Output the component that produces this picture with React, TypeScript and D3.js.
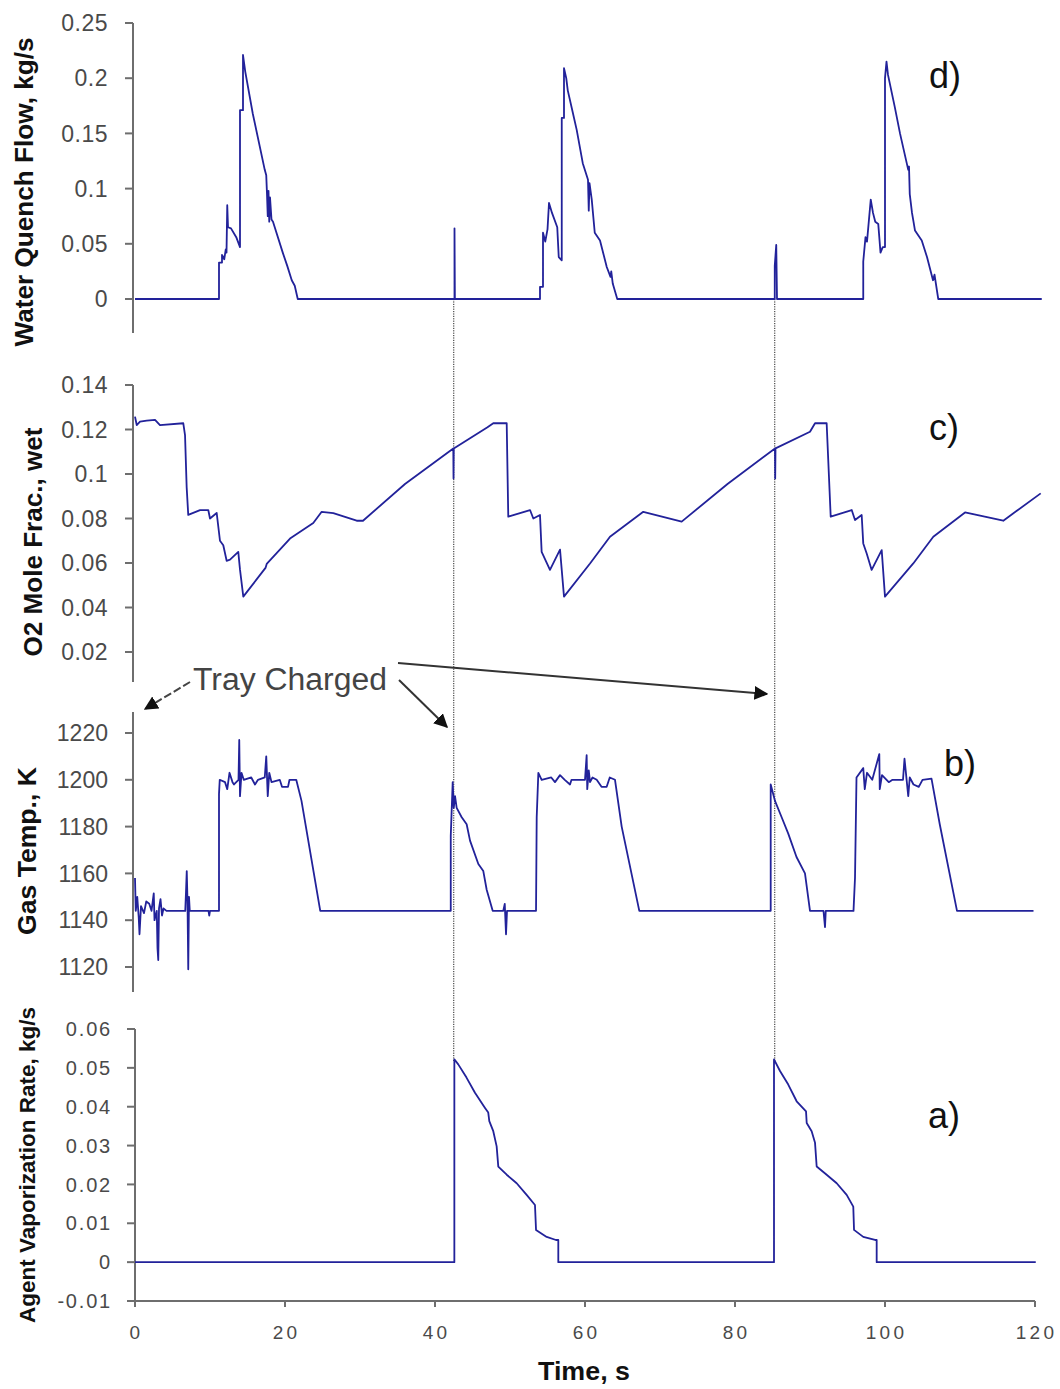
import React from "react";
import * as d3 from "d3";

// ---------- DATA ----------
const timeTicks = [0, 20, 40, 60, 80, 100, 120];
const quenchTicks = [0, 0.05, 0.1, 0.15, 0.2, 0.25];
const quenchTickLabels = ["0", "0.05", "0.1", "0.15", "0.2", "0.25"];
const o2Ticks = [0.02, 0.04, 0.06, 0.08, 0.1, 0.12, 0.14];
const o2TickLabels = ["0.02", "0.04", "0.06", "0.08", "0.1", "0.12", "0.14"];
const tempTicks = [1120, 1140, 1160, 1180, 1200, 1220];
const tempTickLabels = ["1120", "1140", "1160", "1180", "1200", "1220"];
const agentTicks = [-0.01, 0, 0.01, 0.02, 0.03, 0.04, 0.05, 0.06];
const agentTickLabels = ["-0.01", "0", "0.01", "0.02", "0.03", "0.04", "0.05", "0.06"];
const chargeTimes = [42.5, 85.3];

// [time s, water quench flow kg/s]
const quenchFlow: [number, number][] = [
  [0, 0], [11.2, 0], [11.2, 0.033], [11.6, 0.033], [11.6, 0.04], [11.9, 0.036], [12.1, 0.045], [12.2, 0.042],
  [12.3, 0.085], [12.4, 0.065], [12.8, 0.064], [13.5, 0.056], [14.0, 0.047], [14.0, 0.171], [14.4, 0.171],
  [14.4, 0.221], [14.7, 0.206], [15.7, 0.168], [17.3, 0.117], [17.5, 0.112], [17.6, 0.095], [17.7, 0.075],
  [17.8, 0.098], [17.9, 0.07], [18.0, 0.092], [18.2, 0.072], [18.4, 0.07], [19.7, 0.042], [20.3, 0.03],
  [20.9, 0.017], [21.3, 0.012], [21.7, 0],
  [42.6, 0], [42.6, 0.064], [42.65, 0],
  [54.0, 0], [54.0, 0.011], [54.4, 0.011], [54.4, 0.06], [54.7, 0.052], [55.0, 0.063], [55.2, 0.087],
  [55.6, 0.078], [56.3, 0.065], [56.5, 0.038], [56.9, 0.035], [56.9, 0.164], [57.2, 0.164], [57.2, 0.209],
  [57.5, 0.2], [57.7, 0.189], [58.4, 0.168], [58.9, 0.153], [59.7, 0.123], [60.4, 0.108], [60.5, 0.08],
  [60.6, 0.105], [60.9, 0.09], [61.3, 0.06], [62.0, 0.053], [62.9, 0.029], [63.4, 0.02], [63.5, 0.025],
  [63.7, 0.014], [64.3, 0],
  [85.3, 0], [85.3, 0.03], [85.5, 0.049], [85.6, 0],
  [97.1, 0], [97.1, 0.034], [97.4, 0.056], [97.6, 0.052], [98.1, 0.09], [98.4, 0.078], [98.7, 0.07],
  [99.1, 0.068], [99.4, 0.042], [99.7, 0.047], [100.0, 0.047], [100.0, 0.2], [100.2, 0.215], [100.4, 0.203],
  [101.3, 0.174], [102.0, 0.15], [103.1, 0.117], [103.2, 0.12], [103.3, 0.095], [103.6, 0.078], [103.8, 0.07],
  [104.0, 0.062], [104.2, 0.06], [104.9, 0.053], [105.6, 0.038], [106.4, 0.017], [106.6, 0.022], [107.1, 0],
  [120.9, 0],
];

// [time s, O2 mole fraction wet]
const o2Frac: [number, number][] = [
  [0, 0.1258], [0.23, 0.122], [0.67, 0.1235], [1.56, 0.124], [2.67, 0.1243], [3.33, 0.122], [6.44, 0.1228],
  [6.67, 0.1175], [6.89, 0.094], [7.1, 0.0816], [8.67, 0.0838], [9.77, 0.0838], [10.0, 0.08], [10.89, 0.0825],
  [11.33, 0.07], [11.77, 0.068], [12.22, 0.061], [12.67, 0.0615], [13.77, 0.065], [14.0, 0.057], [14.44, 0.0449],
  [17.4, 0.0578], [17.56, 0.0596], [20.67, 0.071], [23.77, 0.078], [24.89, 0.083], [26.44, 0.0824], [29.56, 0.079],
  [30.4, 0.079], [36.0, 0.0955], [42.44, 0.1115], [42.47, 0.098], [42.5, 0.1115], [47.0, 0.121],
  [47.77, 0.1228], [49.56, 0.1228], [49.77, 0.0808], [52.67, 0.0838], [53.11, 0.08], [54.0, 0.0816],
  [54.22, 0.065], [55.33, 0.0569], [56.67, 0.066], [57.2, 0.0449], [60.67, 0.0598], [63.33, 0.0718],
  [67.77, 0.083], [72.89, 0.0786], [79.0, 0.0955], [85.33, 0.1115], [85.36, 0.098], [85.4, 0.1115],
  [90.0, 0.119], [90.67, 0.1228], [92.22, 0.1228], [92.76, 0.0808], [95.56, 0.0838], [96.0, 0.0793],
  [96.89, 0.0816], [97.1, 0.0688], [97.56, 0.0643], [98.22, 0.0569], [99.56, 0.0658], [100.0, 0.0449],
  [103.77, 0.0598], [106.44, 0.0718], [110.67, 0.0827], [115.77, 0.079], [120.76, 0.0913],
];

// [time s, gas temperature K]
const gasTemp: [number, number][] = [
  [0, 1158], [0.1, 1144], [0.3, 1150], [0.5, 1141], [0.6, 1134], [0.8, 1146], [1.2, 1143], [1.5, 1148],
  [1.9, 1147], [2.2, 1144], [2.5, 1151.5], [2.6, 1140], [2.9, 1144], [3.0, 1128], [3.1, 1123], [3.2, 1145],
  [3.4, 1149], [3.6, 1142], [3.8, 1145], [4.2, 1144], [6.7, 1144], [6.8, 1152], [6.9, 1161], [7.0, 1148],
  [7.1, 1119], [7.2, 1150], [7.3, 1144], [9.8, 1144], [9.9, 1142], [10.0, 1144], [11.2, 1144], [11.2, 1194],
  [11.3, 1200], [12.0, 1199], [12.3, 1196], [12.6, 1203], [13.0, 1199], [13.2, 1198], [13.8, 1200],
  [13.9, 1217], [14.0, 1193], [14.2, 1203], [14.5, 1200], [15.5, 1201], [16.0, 1198], [16.4, 1200],
  [17.3, 1201], [17.5, 1210], [17.7, 1193], [17.9, 1203], [18.2, 1199], [19.3, 1200], [19.6, 1197],
  [20.4, 1197], [20.6, 1200], [21.5, 1200], [22.2, 1191], [24.7, 1144],
  [42.1, 1144], [42.1, 1176], [42.36, 1199], [42.5, 1188], [42.67, 1193], [42.89, 1188], [43.56, 1184],
  [44.22, 1181], [44.67, 1174], [45.78, 1164], [46.44, 1161], [46.89, 1153], [47.69, 1144], [49.1, 1144],
  [49.3, 1147], [49.47, 1134], [49.6, 1144], [53.47, 1144], [53.56, 1184], [53.78, 1203], [54.22, 1200],
  [55.5, 1201], [56.0, 1199], [56.67, 1202], [57.3, 1200], [58.0, 1198], [58.2, 1200], [60.0, 1200],
  [60.22, 1210.5], [60.3, 1196], [60.5, 1204], [60.67, 1199], [61.0, 1201], [61.56, 1200], [62.2, 1197],
  [62.89, 1197], [63.3, 1201], [64.0, 1200], [64.89, 1180], [67.24, 1144],
  [84.76, 1144], [84.76, 1198], [85.33, 1191], [86.22, 1184], [87.1, 1177], [88.2, 1167], [89.33, 1160],
  [90.0, 1144], [91.8, 1144], [92.0, 1137], [92.1, 1144], [95.8, 1144], [96.0, 1158], [96.2, 1201],
  [97.1, 1205], [97.3, 1196], [97.6, 1203], [98.3, 1200], [99.24, 1211], [99.3, 1196], [99.6, 1202],
  [100.5, 1199], [101.0, 1200], [102.4, 1200], [102.6, 1209], [103.1, 1193], [103.3, 1201], [103.8, 1198],
  [104.5, 1197], [105.0, 1200], [106.2, 1200.5], [107.3, 1181], [109.6, 1144], [119.8, 1144],
];

// [time s, agent vaporization rate kg/s]
const agentRate: [number, number][] = [
  [0, 0], [42.58, 0], [42.58, 0.0522], [43.1, 0.0509], [44.2, 0.0475], [45.33, 0.0436], [46.67, 0.0397],
  [47.1, 0.0385], [47.24, 0.0363], [47.77, 0.0337], [48.22, 0.0298], [48.44, 0.0246], [49.56, 0.0225],
  [50.89, 0.0203], [52.22, 0.0173], [53.33, 0.0147], [53.47, 0.0083], [54.89, 0.0065], [56.13, 0.0057],
  [56.44, 0.0057], [56.44, 0], [85.2, 0], [85.2, 0.0522], [86.0, 0.0492], [87.1, 0.0457], [88.22, 0.0414],
  [89.47, 0.0388], [89.56, 0.0358], [90.22, 0.0337], [90.67, 0.0307], [90.89, 0.0246], [92.22, 0.0225],
  [93.56, 0.0203], [94.89, 0.0173], [95.77, 0.0143], [95.87, 0.0083], [97.1, 0.0065], [98.67, 0.0057],
  [98.89, 0.0057], [98.89, 0], [120.1, 0],
];

// ---------- LAYOUT ----------
const W = 1060;
const H = 1389;
const LINE = "#22229a";
const AXIS = "#6e6e6e";
const TICKTXT = "#4a4a4a";
const FONT = "'Liberation Sans', Arial, Helvetica, sans-serif";

const x = d3.scaleLinear().domain([0, 120]).range([135, 1035]);

type Panel = {
  key: string;
  data: [number, number][];
  y: d3.ScaleLinear<number, number>;
  ticks: number[];
  labels: string[];
  axisTop: number;
  axisBottom: number;
  axisX: number;
  tickFont: number;
  tickLS: number;
  labelRight: number;
  title: string;
  titleX: number;
  titleY: number;
  titleLen: number;
  titleSize: number;
  letter: string;
  letterX: number;
  letterY: number;
};

const panels: Panel[] = [
  {
    key: "d", data: quenchFlow, y: d3.scaleLinear().domain([0, 0.25]).range([299, 23]),
    ticks: quenchTicks, labels: quenchTickLabels, axisTop: 23, axisBottom: 333, axisX: 133,
    tickFont: 23, tickLS: 0.5, labelRight: 108,
    title: "Water Quench Flow, kg/s", titleX: 33, titleY: 192, titleLen: 309, titleSize: 25,
    letter: "d)", letterX: 929, letterY: 88,
  },
  {
    key: "c", data: o2Frac, y: d3.scaleLinear().domain([0.02, 0.14]).range([652, 385]),
    ticks: o2Ticks, labels: o2TickLabels, axisTop: 385, axisBottom: 682, axisX: 133,
    tickFont: 23, tickLS: 0.5, labelRight: 108,
    title: "O2 Mole Frac., wet", titleX: 42, titleY: 542, titleLen: 229, titleSize: 25,
    letter: "c)", letterX: 929, letterY: 440,
  },
  {
    key: "b", data: gasTemp, y: d3.scaleLinear().domain([1120, 1220]).range([967, 733]),
    ticks: tempTicks, labels: tempTickLabels, axisTop: 712, axisBottom: 992, axisX: 133,
    tickFont: 23, tickLS: 0, labelRight: 108,
    title: "Gas Temp., K", titleX: 36, titleY: 851, titleLen: 168, titleSize: 25,
    letter: "b)", letterX: 944, letterY: 776,
  },
  {
    key: "a", data: agentRate, y: d3.scaleLinear().domain([-0.01, 0.06]).range([1301, 1029]),
    ticks: agentTicks, labels: agentTickLabels, axisTop: 1029, axisBottom: 1306, axisX: 135,
    tickFont: 20, tickLS: 1.8, labelRight: 112,
    title: "Agent Vaporization Rate, kg/s", titleX: 35, titleY: 1165, titleLen: 316, titleSize: 22,
    letter: "a)", letterX: 928, letterY: 1128,
  },
];

const PanelView: React.FC<{ p: Panel }> = ({ p }) => {
  const line = d3
    .line<[number, number]>()
    .x((d) => x(d[0]))
    .y((d) => p.y(d[1]));
  return (
    <g>
      <line x1={p.axisX} x2={p.axisX} y1={p.axisTop} y2={p.axisBottom} stroke={AXIS} strokeWidth={2} />
      {p.ticks.map((t, i) => (
        <g key={i}>
          <line x1={p.axisX - 8} x2={p.axisX} y1={p.y(t)} y2={p.y(t)} stroke={AXIS} strokeWidth={2} />
          <text
            x={p.labelRight}
            y={p.y(t)}
            dy="0.36em"
            textAnchor="end"
            fontSize={p.tickFont}
            letterSpacing={p.tickLS}
            fill={TICKTXT}
            fontFamily={FONT}
          >
            {p.labels[i]}
          </text>
        </g>
      ))}
      <text
        transform={`translate(${p.titleX},${p.titleY}) rotate(-90)`}
        textAnchor="middle"
        fontSize={p.titleSize}
        fontWeight="bold"
        fill="#111"
        fontFamily={FONT}
        textLength={p.titleLen}
        lengthAdjust="spacingAndGlyphs"
      >
        {p.title}
      </text>
      <path d={line(p.data) || ""} fill="none" stroke={LINE} strokeWidth={1.8} strokeLinejoin="round" />
      <text x={p.letterX} y={p.letterY} fontSize={36} fill="#111" fontFamily={FONT}>
        {p.letter}
      </text>
    </g>
  );
};

export default function App() {
  const pa = panels[3];
  const pd = panels[0];
  const xAxisY = pa.y(-0.01);
  return (
    <svg
      width={W}
      height={H}
      viewBox={`0 0 ${W} ${H}`}
      style={{ position: "absolute", left: 0, top: 0, background: "#fff" }}
    >
      <defs>
        <marker id="arr" viewBox="0 0 10 10" refX="9" refY="5" markerWidth="7" markerHeight="7" orient="auto-start-reverse">
          <path d="M0,0 L10,5 L0,10 z" fill="#111" />
        </marker>
      </defs>
      <rect x={0} y={0} width={W} height={H} fill="#fff" />

      {chargeTimes.map((t, i) => (
        <line
          key={i}
          x1={x(t)}
          x2={x(t)}
          y1={pd.y(0)}
          y2={pa.y(0.0515)}
          stroke="#222"
          strokeWidth={1}
          strokeDasharray="1.2,1.2"
        />
      ))}

      {panels.map((p) => (
        <PanelView key={p.key} p={p} />
      ))}

      <line x1={127} x2={x(120)} y1={xAxisY} y2={xAxisY} stroke={AXIS} strokeWidth={2} />
      {timeTicks.map((t) => (
        <g key={t}>
          <line x1={x(t)} x2={x(t)} y1={xAxisY} y2={xAxisY + 6} stroke={AXIS} strokeWidth={2} />
          <text
            x={x(t) + 1.5}
            y={1339}
            textAnchor="middle"
            fontSize={19}
            letterSpacing={3.2}
            fill={TICKTXT}
            fontFamily={FONT}
          >
            {String(t)}
          </text>
        </g>
      ))}
      <text x={584} y={1380} textAnchor="middle" fontSize={25} fontWeight="bold" fill="#111" fontFamily={FONT} textLength={92} lengthAdjust="spacingAndGlyphs">
        Time, s
      </text>

      <text x={193} y={690} fontSize={31} fill="#444" fontFamily={FONT} textLength={194} lengthAdjust="spacingAndGlyphs">
        Tray Charged
      </text>
      <line x1={190} y1={682} x2={145} y2={709} stroke="#444" strokeWidth={2} strokeDasharray="8,3" markerEnd="url(#arr)" />
      <line x1={399} y1={680} x2={447} y2={727} stroke="#333" strokeWidth={2} markerEnd="url(#arr)" />
      <line x1={398} y1={663} x2={767} y2={694} stroke="#333" strokeWidth={2} markerEnd="url(#arr)" />
    </svg>
  );
}
